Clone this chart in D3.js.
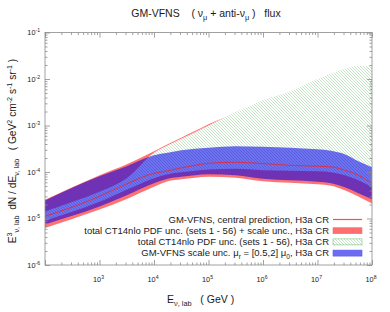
<!DOCTYPE html>
<html>
<head>
<meta charset="utf-8">
<script src="https://cdn.jsdelivr.net/npm/d3@7"></script>
<style>
  body { margin: 0; background: #fff; }
  svg text { font-family: "Liberation Sans", Arial, sans-serif; fill: #1a1a1a; white-space: pre; }
</style>
</head>
<body>
<div id="chart"></div>
<script>
// neutrino energy grid (GeV)
const energy = [1e2, 3.16e2, 1e3, 3.16e3, 1e4, 1.78e4, 3.16e4, 5.62e4, 1e5, 3.16e5, 1e6, 3.16e6, 1e7, 1.78e7, 3.16e7, 5.62e7, 1e8];
// central prediction
const central = [1.11e-5, 1.76e-5, 2.99e-5, 5.57e-5, 9.38e-5, 1.06e-4, 1.23e-4, 1.39e-4, 1.54e-4, 1.62e-4, 1.52e-4, 1.39e-4, 1.33e-4, 1.29e-4, 1.09e-4, 8.5e-5, 5.7e-5];
// total PDF + scale unc. band
const totalLo = [6.27e-6, 9.8e-6, 1.57e-5, 2.64e-5, 4.8e-5, 6.31e-5, 6.97e-5, 7.5e-5, 7.89e-5, 7.5e-5, 6.31e-5, 5.85e-5, 5.43e-5, 5.05e-5, 4.04e-5, 2.99e-5, 2.11e-5];
const totalHi = [2.52e-5, 4.68e-5, 8.49e-5, 1.47e-4, 2.79e-4, 3.95e-4, 5.46e-4, 7.6e-4, 1.07e-3, 1.84e-3, 3.34e-3, 5.22e-3, 9.46e-3, 1.245e-2, 1.6e-2, 1.8e-2, 1.8e-2];
// total PDF unc. band
const pdfLo = [9.1e-6, 1.39e-5, 2.28e-5, 4.13e-5, 7.31e-5, 8.91e-5, 9.86e-5, 1.06e-4, 1.13e-4, 1.17e-4, 1.09e-4, 1.06e-4, 1.035e-4, 9.86e-5, 8.49e-5, 6.62e-5, 4.68e-5];
const pdfHi = [1.42e-5, 2.25e-5, 3.74e-5, 7.31e-5, 2.59e-4, 3.75e-4, 5.2e-4, 7.2e-4, 1.0e-3, 1.94e-3, 3.51e-3, 5.48e-3, 9.95e-3, 1.31e-2, 1.67e-2, 1.9e-2, 1.9e-2];
// scale unc. band
const scaleLo = [7.46e-6, 1.14e-5, 1.82e-5, 3.15e-5, 5.7e-5, 7.13e-5, 7.89e-5, 8.49e-5, 8.91e-5, 8.49e-5, 7.13e-5, 6.62e-5, 6.15e-5, 5.7e-5, 4.68e-5, 3.48e-5, 2.58e-5];
const scaleHi = [2.45e-5, 4.61e-5, 8.07e-5, 1.33e-4, 2.29e-4, 2.59e-4, 2.94e-4, 3.16e-4, 3.33e-4, 3.58e-4, 3.49e-4, 3.33e-4, 3.08e-4, 2.86e-4, 2.4e-4, 1.7e-4, 1.26e-4];

const xMajor = [1e2, 1e3, 1e4, 1e5, 1e6, 1e7, 1e8];
const xLabels = [3, 4, 5, 6, 7, 8];
const yMajor = [1e-6, 1e-5, 1e-4, 1e-3, 1e-2, 1e-1];
const yLabels = [-6, -5, -4, -3, -2, -1];

const W = 390, H = 312;
const m = { left: 45, right: 18, top: 32.5, bottom: 47 };

const svg = d3.select("#chart").append("svg").attr("width", W).attr("height", H);

const x = d3.scaleLog().domain([1e2, 1e8]).range([m.left, W - m.right]);
const y = d3.scaleLog().domain([1e-6, 1e-1]).range([H - m.bottom, m.top]);

let defs = svg.append("defs");
let pat = defs.append("pattern").attr("id", "hatch").attr("patternUnits", "userSpaceOnUse")
    .attr("width", 3).attr("height", 3);
pat.append("rect").attr("width", 3).attr("height", 3).attr("fill", "#fff");
pat.append("path").attr("d", "M-1,-1L4,4M-1,2L1,4M2,-1L4,1")
    .attr("stroke", "#9ccf9c").attr("stroke-width", 0.6);
defs.append("clipPath").attr("id", "clip").append("rect")
    .attr("x", m.left).attr("y", m.top).attr("width", W - m.left - m.right).attr("height", H - m.top - m.bottom);

function band(lo, hi) {
    return d3.area()
        .x((d, i) => x(energy[i]))
        .y0((d, i) => y(lo[i]))
        .y1((d, i) => y(hi[i]))
        .curve(d3.curveMonotoneX)(energy);
}

let g = svg.append("g").attr("clip-path", "url(#clip)");
g.append("path").attr("d", band(totalLo, totalHi)).attr("fill", "#ff7272");
g.append("path").attr("d", band(pdfLo, pdfHi)).attr("fill", "url(#hatch)");
g.append("path").attr("d", band(scaleLo, scaleHi)).attr("fill", "rgb(0,0,232)").attr("fill-opacity", 0.56);
g.append("path")
    .attr("d", d3.line().x((d, i) => x(energy[i])).y(d => y(d)).curve(d3.curveMonotoneX)(central))
    .attr("fill", "none").attr("stroke", "#e8283a").attr("stroke-width", 0.9);

// minor ticks
let xMinor = [], yMinor = [];
for (let e = 2; e < 8; e++) for (let k = 2; k <= 9; k++) xMinor.push(k * Math.pow(10, e));
for (let e = -6; e < -1; e++) for (let k = 2; k <= 9; k++) yMinor.push(k * Math.pow(10, e));

function styleAxis(sel) {
    sel.select(".domain").remove();
    sel.selectAll("line").attr("stroke", "#8a8a8a").attr("stroke-width", 0.8);
    sel.selectAll("text").remove();
}

const bottomY = H - m.bottom, rightX = W - m.right;
svg.append("g").attr("transform", `translate(0,${bottomY})`)
    .call(d3.axisBottom(x).tickValues(xMajor).tickSize(-5)).call(styleAxis);
svg.append("g").attr("transform", `translate(0,${bottomY})`)
    .call(d3.axisBottom(x).tickValues(xMinor).tickSize(-2.5)).call(styleAxis);
svg.append("g").attr("transform", `translate(0,${m.top})`)
    .call(d3.axisTop(x).tickValues(xMajor).tickSize(-5)).call(styleAxis);
svg.append("g").attr("transform", `translate(0,${m.top})`)
    .call(d3.axisTop(x).tickValues(xMinor).tickSize(-2.5)).call(styleAxis);
svg.append("g").attr("transform", `translate(${m.left},0)`)
    .call(d3.axisLeft(y).tickValues(yMajor).tickSize(-5)).call(styleAxis);
svg.append("g").attr("transform", `translate(${m.left},0)`)
    .call(d3.axisLeft(y).tickValues(yMinor).tickSize(-2.5)).call(styleAxis);
svg.append("g").attr("transform", `translate(${rightX},0)`)
    .call(d3.axisRight(y).tickValues(yMajor).tickSize(-5)).call(styleAxis);
svg.append("g").attr("transform", `translate(${rightX},0)`)
    .call(d3.axisRight(y).tickValues(yMinor).tickSize(-2.5)).call(styleAxis);

svg.append("rect").attr("x", m.left).attr("y", m.top)
    .attr("width", rightX - m.left).attr("height", bottomY - m.top)
    .attr("fill", "none").attr("stroke", "#8a8a8a").attr("stroke-width", 0.8);

// rich text: parts = [[text, "n"|"sup"|"sub"], ...]
function rich(sel, parts, base) {
    let cur = 0;
    parts.forEach(([s, k]) => {
        const target = k === "sup" ? -0.4 * base : k === "sub" ? 0.3 * base : 0;
        sel.append("tspan").attr("dy", target - cur)
            .attr("font-size", k === "n" ? base : base * 0.7).text(s);
        cur = target;
    });
}

xLabels.forEach(p => {
    let t = svg.append("text").attr("x", x(Math.pow(10, p)) - 1).attr("y", bottomY + 17)
        .attr("text-anchor", "middle");
    rich(t, [["10", "n"], [String(p), "sup"]], 7.3);
});
yLabels.forEach(p => {
    let t = svg.append("text").attr("x", m.left - 5).attr("y", y(Math.pow(10, p)) + 2.5)
        .attr("text-anchor", "end");
    rich(t, [["10", "n"], [String(p), "sup"]], 7.3);
});

// title
let title = svg.append("text").attr("x", 206).attr("y", 17).attr("text-anchor", "middle");
rich(title, [["GM-VFNS    ( ν", "n"], ["μ", "sub"], [" + anti-ν", "n"], ["μ", "sub"], [" )   flux", "n"]], 10.5);

// x label
let xl = svg.append("text").attr("x", 167).attr("y", 303);
rich(xl, [["E", "n"], ["ν, lab", "sub"], ["   ( GeV )", "n"]], 10.5);

// y label
let yl = svg.append("text").attr("text-anchor", "middle")
    .attr("transform", "translate(16,151) rotate(-90)");
rich(yl, [["E", "n"], ["3", "sup"], ["ν, lab", "sub"], ["  dN / dE", "n"], ["ν, lab", "sub"],
    ["   ( GeV", "n"], ["2", "sup"], [" cm", "n"], ["-2", "sup"], [" s", "n"], ["-1", "sup"],
    [" sr", "n"], ["-1", "sup"], [" )", "n"]], 10.2);

// legend
const legendRows = [
    { parts: [["GM-VFNS, central prediction, H3a CR", "n"]], kind: "line" },
    { parts: [["total CT14nlo PDF unc. (sets 1 - 56) + scale unc., H3a CR", "n"]], kind: "total" },
    { parts: [["total CT14nlo PDF unc. (sets 1 - 56), H3a CR", "n"]], kind: "pdf" },
    { parts: [["GM-VFNS scale unc. μ", "n"], ["r", "sub"], [" = [0.5,2] μ", "n"], ["0", "sub"], [", H3a CR", "n"]], kind: "scale" }
];
legendRows.forEach((r, i) => {
    const cy = 219.5 + i * 11.2;
    let t = svg.append("text").attr("x", 329).attr("y", cy + 3.3).attr("text-anchor", "end");
    rich(t, r.parts, 9.5);
    if (r.kind === "line") {
        svg.append("line").attr("x1", 333).attr("x2", 362).attr("y1", cy).attr("y2", cy)
            .attr("stroke", "#ff4d4d").attr("stroke-width", 1.2);
    } else {
        let fill = r.kind === "total" ? "#ff6e6e" : r.kind === "pdf" ? "url(#hatch)" : "#6c6cf2";
        let stroke = r.kind === "total" ? "#ff6e6e" : r.kind === "pdf" ? "#7cc07c" : "#5a5aee";
        svg.append("rect").attr("x", 333).attr("y", cy - 3).attr("width", 29).attr("height", 6)
            .attr("fill", fill).attr("stroke", stroke).attr("stroke-width", 0.6);
    }
});
</script>
</body>
</html>
